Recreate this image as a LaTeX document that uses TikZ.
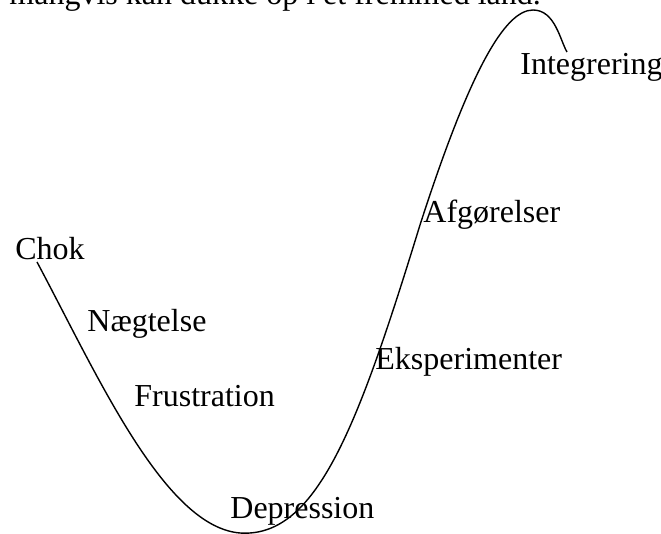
\documentclass[tikz,border=0pt]{standalone}
\usepackage{fontspec}
\setmainfont{Liberation Serif}
\usepackage{tikz}

\begin{document}
\begin{tikzpicture}[
  x=0.5pt, y=-0.5pt,
  lbl/.style={anchor=base west, inner sep=0pt, font=\fontsize{16}{19}\selectfont},
  curve/.style={line width=0.7pt}
]
\useasboundingbox (0,0) rectangle (661,534);
\clip (0,0) rectangle (661,534);
% text cut off at the top of the page
\node[lbl] (intro) at (9,5) {mangvis kan dukke op i et fremmed land.};
% phases
\node[lbl] (chok) at (15,260) {Chok};
\node[lbl] (naeg) at (87,332) {Nægtelse};
\node[lbl] (frus) at (134,407) {Frustration};
\node[lbl] (depr) at (230,519) {Depression};
\node[lbl] (eksp) at (375,370) {Eksperimenter};
\node[lbl] (afgo) at (423,223) {Afgørelser};
\node[lbl] (integ) at (520,75) {Integrering};
% the curve
\draw[curve] (37,262) .. controls (100,380) and (170,540) .. (250,533)
  .. controls (320,528) and (360,420) .. (420,225)
  .. controls (470,70) and (505,10) .. (533,10)
  .. controls (555,10) and (560,40) .. (567,52);
\end{tikzpicture}
\end{document}
